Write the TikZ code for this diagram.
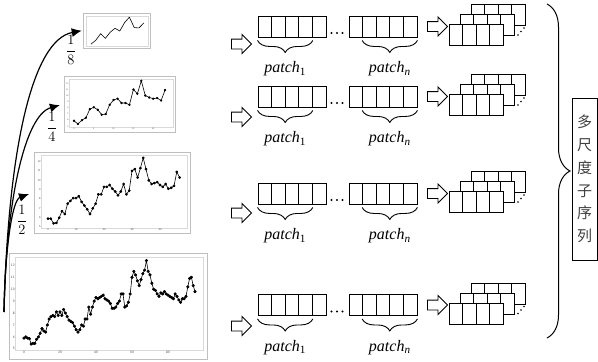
\documentclass[tikz,border=0pt]{standalone}
\usepackage{fontspec}
\usepackage{tikz}
\usetikzlibrary{arrows.meta, positioning, shapes.arrows, decorations.pathreplacing}
\newfontfamily\serifrm{Liberation Serif}
\newfontfamily\cjkfont{Noto Sans CJK SC}
% time series values, index 0..95
\def\tsdata{{5.9,6.0,5.9,5.85,5.4,5.45,5.45,5.8,6.0,6.3,6.7,6.5,6.4,7.0,7.5,7.7,
  7.8,7.7,8.1,7.8,8.1,7.8,8.3,8.0,7.7,7.4,7.3,7.2,6.9,6.6,6.4,6.6,
  7.0,6.9,7.5,7.5,8.5,7.9,8.5,9.0,9.3,9.2,9.3,9.4,9.5,9.2,9.1,9.0,
  8.8,8.4,8.4,8.5,8.8,9.0,9.6,9.6,8.5,8.6,8.9,9.6,11.0,11.5,11.2,10.7,
  10.3,10.8,11.3,11.6,12.4,11.5,11.2,10.5,10.0,9.9,9.6,9.4,9.7,9.6,9.8,9.6,
  9.5,9.4,9.3,9.2,9.6,9.4,9.1,8.9,9.2,9.2,9.4,10.2,10.9,11.0,10.3,9.8}}
\tikzset{
  chartframe/.style={rectangle, draw=gray!50, line width=0.6pt, inner sep=0pt},
  axesbox/.style={draw=gray!30, line width=0.4pt},
  series/.style={black, line width=0.6pt, line join=round},
  ticklab/.style={inner sep=0.6pt, text=gray!60!black, font=\sffamily},
  fraclab/.style={inner sep=0pt, font=\fontsize{14}{16}\selectfont},
  cell/.style={rectangle, draw, line width=0.9pt, fill=white, inner sep=0pt,
               minimum width=13.6pt, minimum height=21pt},
  hollowarrow/.style={single arrow, draw, fill=white, line width=0.9pt,
                      inner xsep=0pt, inner ysep=4.5pt, minimum height=20pt,
                      single arrow head extend=4.5pt, single arrow head indent=0pt},
  patchbrace/.style={decorate, decoration={brace, amplitude=12pt}, line width=0.9pt},
  patchlab/.style={inner sep=0pt, font=\serifrm\fontsize{16}{18}\selectfont},
  bigbrace/.style={decorate, decoration={brace, amplitude=23pt}, line width=1pt},
  labelbox/.style={rectangle, draw, line width=0.8pt, inner sep=0pt, align=center,
                   minimum width=25pt, minimum height=162pt, text=black!75,
                   font=\cjkfont\fontsize{15}{22.8}\selectfont},
  scalearrow/.style={-{Latex[length=10pt, width=9pt]}, line width=1.2pt},
}
% #1 x of index 0, #2 pt per index, #3 y of value 0, #4 pt per value,
% #5 step, #6 samples, #7 mark size, #8 tick font size
\newcommand\tschart[8]{%
  \begin{scope}[shift={(#1,#3)}, x=#2pt, y=#4pt]
    \draw[axesbox] (-4.75,4.9) rectangle (99.75,12.7);
    \draw[series] plot[mark=*, mark size=#7, samples at={#6}] (\x,{\tsdata[int(\x)]});
    \ifdim#8pt>0pt
      \foreach \v in {5,...,12}
        \node[ticklab, font=\sffamily\fontsize{#8}{#8}\selectfont, anchor=east] at (-4.75,\v) {\v};
      \foreach \i in {0,20,...,80} {
        \pgfmathtruncatemacro\lab{\i/#5}
        \node[ticklab, font=\sffamily\fontsize{#8}{#8}\selectfont, anchor=north] at (\i,4.9) {\lab};
      }
    \fi
  \end{scope}}

\begin{document}
\begin{tikzpicture}[x=1pt, y=-1pt]
  \useasboundingbox (0,0) rectangle (598,362);

  % series at four scales
  \node[chartframe, minimum width=198pt, minimum height=106pt] (c1) at (108,306) {};
  \node[chartframe, minimum width=156pt, minimum height=81pt] (c2) at (112,192.5) {};
  \node[chartframe, minimum width=111pt, minimum height=56pt] (c3) at (119.5,104) {};
  \node[chartframe, minimum width=67pt, minimum height=35pt] (c4) at (116.5,30.5) {};

  \tschart{24}{1.8}{408.4}{11.92}{1}{0,1,...,95}{1.3pt}{3.5}
  \tschart{48}{1.4}{273.9}{9.36}{2}{0,2,...,94}{1.1pt}{2.8}
  \tschart{74}{0.99}{157.1}{6.15}{4}{0,4,...,92}{0.9pt}{2.2}
  \tschart{88.6}{0.6}{64.9}{3.85}{8}{4,12,...,92}{0pt}{0}

  \node[fraclab] (f8) at (71,50) {$\displaystyle\frac{1}{8}$};
  \node[fraclab] (f4) at (52,127) {$\displaystyle\frac{1}{4}$};
  \node[fraclab] (f2) at (22,220) {$\displaystyle\frac{1}{2}$};

  \coordinate (root) at (4,312);
  \draw[scalearrow, shorten >=1pt] (root) .. controls (8,150) and (32,40) .. (c4.west);
  \draw[scalearrow, shorten >=4pt] (root) .. controls (6,200) and (25,115) .. (c3.west);
  \draw[scalearrow, shorten >=5pt] (root) .. controls (5,250) and (12,200) .. (c2.west);

  % patch rows
  \foreach \r/\y/\ay in {1/26.5/44, 2/96.5/117, 3/193.5/213, 4/305/326} {
    \node[hollowarrow] (in\r) at (239,\ay) {};
    \foreach \k in {1,...,5} {
      \node[cell] (p\r-a\k) at ({251.2+13.6*\k},\y) {};
      \node[cell] (p\r-b\k) at ({342.2+13.6*\k},\y) {};
    }
    \foreach \d in {0,1,2}
      \fill ({331.5+5.5*\d},{\y+6.5}) circle (1.1pt);
    \draw[patchbrace] ([yshift=-3pt]p\r-a4.south east) -- ([yshift=-3pt]p\r-a1.south west);
    \draw[patchbrace] ([yshift=-3pt]p\r-b5.south east) -- ([yshift=-3pt]p\r-b2.south west);
    \node[patchlab] (l\r-a) at (285.2,{\y+42.5}) {\itshape patch\textsubscript{\upshape 1}};
    \node[patchlab] (l\r-b) at (389.8,{\y+42.5}) {\itshape patch\textsubscript{n}};

    % stacked patches
    \node[hollowarrow] (out\r) at (435,\y) {};
    \foreach \L/\dx/\dy in {2/22/-19.6, 1/11/-9.8, 0/0/0}
      \foreach \k in {1,...,4}
        \node[cell, minimum width=13.5pt] (s\r-\L-\k) at ({442.25+13.5*\k+\dx},{\y+8.5+\dy}) {};
    \foreach \d in {0,1,2}
      \fill ({518+3*\d},{\y+8.5-3.5*\d}) circle (0.9pt);
  }

  % multi-scale sub-sequences
  \node[labelbox] (msub) at (584.5,179) {多\\尺\\度\\子\\序\\列};
  \coordinate (bt) at (547,4);
  \coordinate (bb) at (547,338);
  \draw[bigbrace] (bt) -- (bb);
\end{tikzpicture}
\end{document}
